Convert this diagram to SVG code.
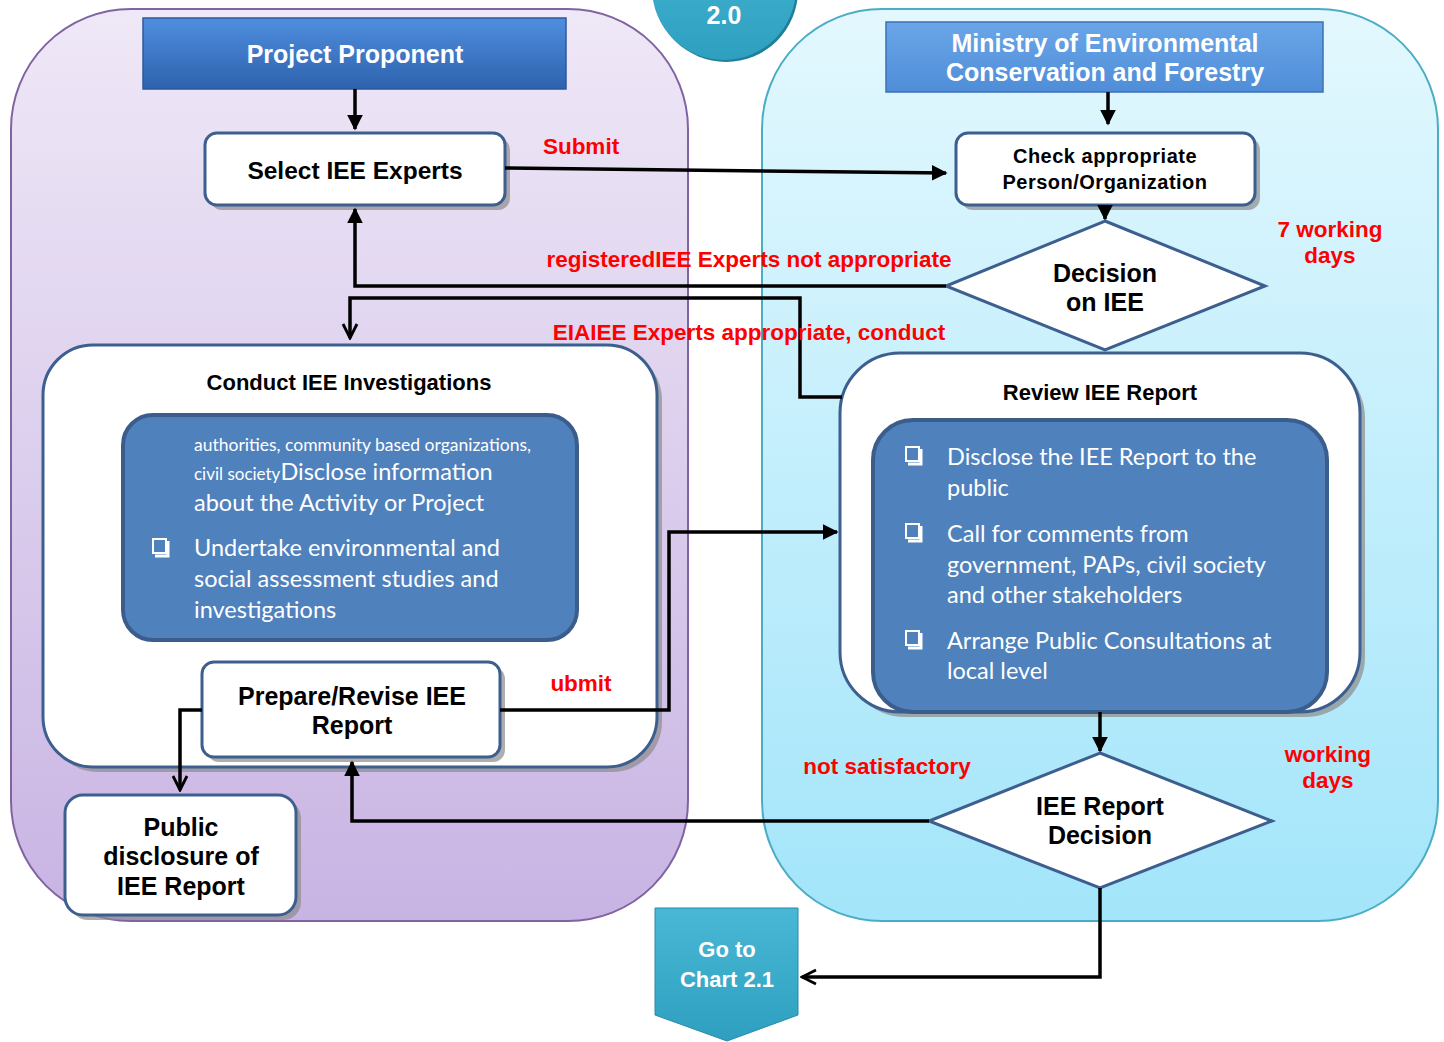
<svg xmlns="http://www.w3.org/2000/svg" width="1444" height="1042" viewBox="0 0 1444 1042">
<defs>
<linearGradient id="gL" x1="0" y1="0" x2="0" y2="1"><stop offset="0" stop-color="#efe8f7"/><stop offset="1" stop-color="#c8b4e3"/></linearGradient>
<linearGradient id="gR" x1="0" y1="0" x2="0" y2="1"><stop offset="0" stop-color="#e3f8fe"/><stop offset="1" stop-color="#a3e5fa"/></linearGradient>
<linearGradient id="gH1" x1="0" y1="0" x2="0" y2="1"><stop offset="0" stop-color="#4f8edf"/><stop offset="1" stop-color="#2e62ad"/></linearGradient>
<linearGradient id="gH2" x1="0" y1="0" x2="0" y2="1"><stop offset="0" stop-color="#6aa6e8"/><stop offset="1" stop-color="#4f8dd8"/></linearGradient>
<linearGradient id="gT" x1="0" y1="0" x2="0" y2="1"><stop offset="0" stop-color="#49b8d6"/><stop offset="1" stop-color="#2e9fbf"/></linearGradient>
<marker id="ar" viewBox="0 0 10 10" refX="9" refY="5" markerWidth="4.5" markerHeight="4.5" orient="auto"><path d="M0,0 L10,5 L0,10 z" fill="#000"/></marker>
<marker id="ov" viewBox="0 0 10 10" refX="9" refY="5" markerWidth="5" markerHeight="5" orient="auto"><path d="M1,1 L9,5 L1,9" fill="none" stroke="#000" stroke-width="1.6"/></marker>
</defs>
<style>
.lane{stroke-width:2}
.box{fill:#fff;stroke:#3d5f8f;stroke-width:3}
.shd{fill:#8c8c8c;opacity:.7}
.blue{fill:#4f81bd;stroke:#3b5d8c;stroke-width:4}
.t{font-family:"Liberation Sans",Arial,sans-serif;font-weight:bold;text-anchor:middle;fill:#000}
.w{fill:#fff}
.red{font-family:"Liberation Sans",Arial,sans-serif;font-weight:bold;fill:#f00;font-size:22.5px;text-anchor:middle}
.c{font-family:Lato,"Open Sans",sans-serif;fill:#fff}
.cb{fill:none;stroke:#fff;stroke-width:2}
.ln{fill:none;stroke:#000;stroke-width:3.5}
</style>
<g id="lane-left"><rect class="lane" x="11" y="9" width="677" height="912" rx="120" fill="url(#gL)" stroke="#8064a2"/></g>
<g id="lane-right"><rect class="lane" x="762" y="9" width="676" height="912" rx="120" fill="url(#gR)" stroke="#4bacc6"/></g>
<g id="badge"><circle cx="726" cy="-10" r="72" fill="#1f7f99"/><circle cx="724" cy="-12" r="72" fill="url(#gT)"/><text class="t w" x="724" y="24" font-size="25">2.0</text></g>
<g id="hdr-proponent"><rect x="143" y="18" width="423" height="71" fill="url(#gH1)" stroke="#2b5a9e" stroke-width="1.5"/><text class="t w" x="355" y="63" font-size="25">Project Proponent</text></g>
<g id="hdr-ministry"><rect x="886" y="22" width="437" height="70" fill="url(#gH2)" stroke="#3d70b5" stroke-width="1.5"/><text class="t w" x="1105" y="52" font-size="25">Ministry of Environmental</text><text class="t w" x="1105" y="81" font-size="25">Conservation and Forestry</text></g>
<g id="select"><rect class="shd" x="210" y="138" width="300" height="72" rx="12"/><rect class="box" x="205" y="133" width="300" height="72" rx="12"/><text class="t" x="355" y="179" font-size="24.5">Select IEE Experts</text></g>
<g id="check"><rect class="shd" x="961" y="138" width="299" height="72" rx="12"/><rect class="box" x="956" y="133" width="299" height="72" rx="12"/><text class="t" x="1105" y="163" font-size="20" letter-spacing="0.5">Check appropriate</text><text class="t" x="1105" y="189" font-size="20" letter-spacing="0.5">Person/Organization</text></g>
<g id="decision1"><polygon points="1105,221 1265,286 1105,350 946,286" fill="#fff" stroke="#3d5f8f" stroke-width="3"/><text class="t" x="1105" y="282" font-size="25">Decision</text><text class="t" x="1105" y="311" font-size="25">on IEE</text></g>
<g id="conduct"><rect class="shd" x="48" y="350" width="614" height="422" rx="50"/><rect class="box" x="43" y="345" width="614" height="422" rx="50"/><text class="t" x="349" y="390" font-size="22">Conduct IEE Investigations</text>
<rect class="blue" x="123" y="415" width="454" height="225" rx="30"/>
<text class="c" x="194" y="451" font-size="17.5">authorities, community based organizations,</text>
<text class="c" x="194" y="480" font-size="23.5"><tspan font-size="17">civil society</tspan>Disclose information</text>
<text class="c" x="194" y="511" font-size="23.5">about the Activity or Project</text>
<rect class="cb" x="153" y="539" width="13" height="14"/><path d="M168,541 V556 H155" fill="none" stroke="#fff" stroke-width="3"/>
<text class="c" x="194" y="556" font-size="23.5">Undertake environmental and</text>
<text class="c" x="194" y="587" font-size="23.5">social assessment studies and</text>
<text class="c" x="194" y="618" font-size="23.5">investigations</text></g>
<g id="prepare"><rect class="shd" x="207" y="667" width="298" height="95" rx="12"/><rect class="box" x="202" y="662" width="298" height="95" rx="12"/><text class="t" x="352" y="705" font-size="25">Prepare/Revise IEE</text><text class="t" x="352" y="734" font-size="25">Report</text></g>
<g id="public"><rect class="shd" x="70" y="800" width="231" height="120" rx="18"/><rect class="box" x="65" y="795" width="231" height="120" rx="18"/><text class="t" x="181" y="836" font-size="25">Public</text><text class="t" x="181" y="865" font-size="25">disclosure of</text><text class="t" x="181" y="895" font-size="25">IEE Report</text></g>
<g id="review"><rect class="shd" x="845" y="358" width="520" height="359" rx="60"/><rect class="box" x="840" y="353" width="520" height="359" rx="60"/><text class="t" x="1100" y="400" font-size="22">Review IEE Report</text>
<rect class="blue" x="873" y="420" width="454" height="292" rx="40"/>
<rect class="cb" x="906" y="447" width="13" height="14"/><path d="M921,449 V464 H908" fill="none" stroke="#fff" stroke-width="3"/>
<text class="c" x="947" y="465" font-size="23.5">Disclose the IEE Report to the</text>
<text class="c" x="947" y="496" font-size="23.5">public</text>
<rect class="cb" x="906" y="524" width="13" height="14"/><path d="M921,526 V541 H908" fill="none" stroke="#fff" stroke-width="3"/>
<text class="c" x="947" y="542" font-size="23.5">Call for comments from</text>
<text class="c" x="947" y="573" font-size="23.5">government, PAPs, civil society</text>
<text class="c" x="947" y="603" font-size="23.5">and other stakeholders</text>
<rect class="cb" x="906" y="631" width="13" height="14"/><path d="M921,633 V648 H908" fill="none" stroke="#fff" stroke-width="3"/>
<text class="c" x="947" y="649" font-size="23.5">Arrange Public Consultations at</text>
<text class="c" x="947" y="679" font-size="23.5">local level</text></g>
<g id="decision2"><polygon points="1100,753 1272,821 1100,888 929,821" fill="#fff" stroke="#3d5f8f" stroke-width="3"/><text class="t" x="1100" y="815" font-size="25">IEE Report</text><text class="t" x="1100" y="844" font-size="25">Decision</text></g>
<g id="goto"><path d="M655,908 H798 V1015 L727,1041 L655,1015 Z" fill="url(#gT)" stroke="#2a8aa5" stroke-width="1"/><text class="t w" x="727" y="957" font-size="22">Go to</text><text class="t w" x="727" y="987" font-size="22">Chart 2.1</text></g>
<g id="connectors">
<path class="ln" d="M355,89 V129" marker-end="url(#ar)"/>
<path class="ln" d="M1108,92 V124" marker-end="url(#ar)"/>
<path class="ln" d="M505,168 L946,173" marker-end="url(#ar)"/>
<path class="ln" d="M1105,205 V219" marker-end="url(#ar)"/>
<path class="ln" d="M946,286 H355 V209" marker-end="url(#ar)"/>
<path class="ln" d="M842,397 H800 V298 H350 V338" marker-end="url(#ov)"/>
<path class="ln" d="M202,710 H180 V790" marker-end="url(#ov)"/>
<path class="ln" d="M500,710 H669 V532 H837" marker-end="url(#ar)"/>
<path class="ln" d="M1100,712 V751" marker-end="url(#ar)"/>
<path class="ln" d="M929,821 H352 V762" marker-end="url(#ar)"/>
<path class="ln" d="M1100,888 V977 H802" marker-end="url(#ov)"/>
</g>
<g id="labels">
<text class="red" x="581" y="154">Submit</text>
<text class="red" x="749" y="267">registeredIEE Experts not appropriate</text>
<text class="red" x="749" y="340">EIAIEE Experts appropriate, conduct</text>
<text class="red" x="1330" y="237">7 working</text>
<text class="red" x="1330" y="263">days</text>
<text class="red" x="581" y="691">ubmit</text>
<text class="red" x="887" y="774">not satisfactory</text>
<text class="red" x="1328" y="762">working</text>
<text class="red" x="1328" y="788">days</text>
</g>
</svg>
